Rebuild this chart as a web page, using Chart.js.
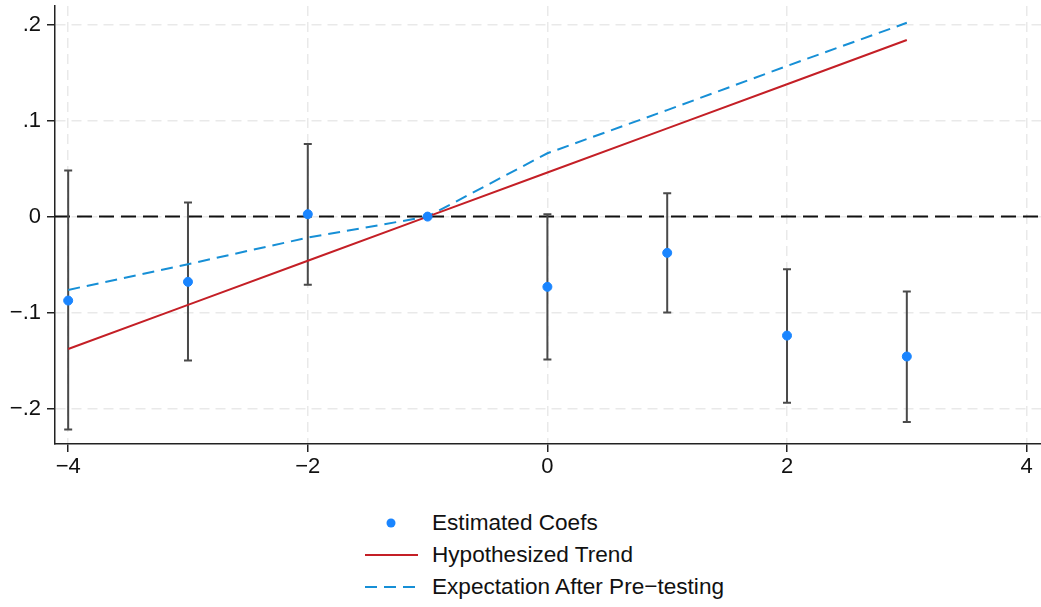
<!DOCTYPE html>
<html>
<head>
<meta charset="utf-8">
<script src="https://cdn.jsdelivr.net/npm/chart.js@4.4.1/dist/chart.umd.min.js"></script>
<style>
    body { margin: 0; background: #fff; }
    #wrap { position: relative; width: 1041px; height: 607px; font-family: "Liberation Sans", Arial, sans-serif; }
    #legend { position: absolute; left: 365px; top: 507px; }
    .row { display: flex; align-items: center; height: 32px; font-size: 22.6px; color: #111; }
    .row svg { margin-right: 14px; }
</style>
</head>
<body>
<div id="wrap">
    <canvas id="chart" width="1041" height="490"></canvas>
    <div id="legend"></div>
</div>
<script>
// event-study coefficients
const periods = [-4, -3, -2, -1, 0, 1, 2, 3];
const coefs   = [-0.0875, -0.068, 0.0025, 0, -0.0732, -0.0378, -0.124, -0.1458];
const ciLow   = [-0.222, -0.150, -0.0711, 0, -0.149, -0.100, -0.194, -0.214];
const ciHigh  = [0.048, 0.0146, 0.0757, 0, 0.0025, 0.0244, -0.0548, -0.078];
const trend   = [-0.138, -0.092, -0.046, 0, 0.046, 0.092, 0.138, 0.184];
const expect  = [-0.0764, -0.0496, -0.0219, 0, 0.066, 0.111, 0.157, 0.202];

const xTicks = [-4, -2, 0, 2, 4];
const xTickLabels = ['\u22124', '\u22122', '0', '2', '4'];
const yTicks = [-0.2, -0.1, 0, 0.1, 0.2];
const yTickLabels = ['\u2212.2', '\u2212.1', '0', '.1', '.2'];

const FONT = '"Liberation Sans", Arial, sans-serif';

const pts = arr => periods.map((p, i) => ({ x: p, y: arr[i] }));

/* ================================
   ERROR BARS + ZERO LINE
================================ */

const extras = {
    id: 'extras',
    beforeDatasetsDraw(chart) {
        const { ctx, chartArea, scales: { x, y } } = chart;
        ctx.save();
        // reference line at 0
        ctx.strokeStyle = '#111';
        ctx.lineWidth = 2;
        ctx.setLineDash([15, 7]);
        ctx.beginPath();
        ctx.moveTo(chartArea.left, y.getPixelForValue(0));
        ctx.lineTo(chartArea.right, y.getPixelForValue(0));
        ctx.stroke();

        // confidence intervals
        ctx.setLineDash([]);
        ctx.strokeStyle = '#4a4a4a';
        ctx.lineWidth = 2;
        periods.forEach((p, i) => {
            if (ciLow[i] === ciHigh[i]) return;
            const px = x.getPixelForValue(p);
            const lo = y.getPixelForValue(ciLow[i]);
            const hi = y.getPixelForValue(ciHigh[i]);
            ctx.beginPath();
            ctx.moveTo(px, lo); ctx.lineTo(px, hi);
            ctx.moveTo(px - 4, lo); ctx.lineTo(px + 4, lo);
            ctx.moveTo(px - 4, hi); ctx.lineTo(px + 4, hi);
            ctx.stroke();
        });
        ctx.restore();
    }
};

const chart = new Chart(document.getElementById('chart'), {
    type: 'scatter',
    data: {
        datasets: [{
            label: 'Estimated Coefs',
            data: pts(coefs),
            backgroundColor: '#1a85ff',
            borderColor: '#1a85ff',
            pointRadius: 4.5,
            order: 0
        }, {
            label: 'Hypothesized Trend',
            data: pts(trend),
            showLine: true,
            borderColor: '#c41f26',
            borderWidth: 2,
            pointRadius: 0,
            order: 1
        }, {
            label: 'Expectation After Pre\u2212testing',
            data: pts(expect),
            showLine: true,
            borderColor: '#168fd6',
            borderWidth: 2,
            borderDash: [12, 7],
            pointRadius: 0,
            order: 2
        }]
    },
    options: {
        responsive: false,
        animation: false,
        devicePixelRatio: 1,
        layout: { autoPadding: false, padding: { top: 6, right: 0, left: 0, bottom: 0 } },
        plugins: { legend: { display: false }, tooltip: { enabled: false } },
        scales: {
            x: {
                type: 'linear',
                min: -4.11,
                max: 4.12,
                afterBuildTicks: s => { s.ticks = xTicks.map(v => ({ value: v })); },
                afterFit: s => { s.height = 46; s.paddingLeft = 0; s.paddingRight = 0; },
                grid: { color: '#e9e9e9', lineWidth: 1.5, tickColor: '#222', tickLength: 8, tickWidth: 1.5 },
                border: { color: '#222', width: 1.5, dash: [10, 6] },
                ticks: {
                    color: '#111',
                    padding: 2,
                    maxRotation: 0,
                    font: { family: FONT, size: 22 },
                    callback: (v) => xTickLabels[xTicks.indexOf(v)]
                }
            },
            y: {
                min: -0.237,
                max: 0.2195,
                afterBuildTicks: s => { s.ticks = yTicks.map(v => ({ value: v })); },
                afterFit: s => { s.width = 55; s.paddingTop = 0; s.paddingBottom = 0; },
                grid: { color: '#e9e9e9', lineWidth: 1.5, tickColor: '#222', tickLength: 8, tickWidth: 1.5 },
                border: { color: '#222', width: 1.5, dash: [10, 6] },
                ticks: {
                    color: '#111',
                    padding: 6,
                    font: { family: FONT, size: 22 },
                    callback: (v) => yTickLabels[yTicks.findIndex(t => Math.abs(t - v) < 1e-9)]
                }
            }
        }
    },
    plugins: [extras]
});

/* ================================
   LEGEND (vertical, left aligned)
================================ */

const legend = document.getElementById('legend');
chart.data.datasets.forEach(ds => {
    let sym;
    if (!ds.showLine) {
        sym = `<circle cx="26" cy="16" r="4.5" fill="${ds.backgroundColor}"/>`;
    } else {
        const dash = ds.borderDash ? `stroke-dasharray="${ds.borderDash.join(' ')}"` : '';
        sym = `<line x1="0" y1="16" x2="53" y2="16" stroke="${ds.borderColor}" stroke-width="2" ${dash}/>`;
    }
    legend.innerHTML += `<div class="row"><svg width="53" height="32">${sym}</svg><span>${ds.label}</span></div>`;
});
</script>
</body>
</html>
